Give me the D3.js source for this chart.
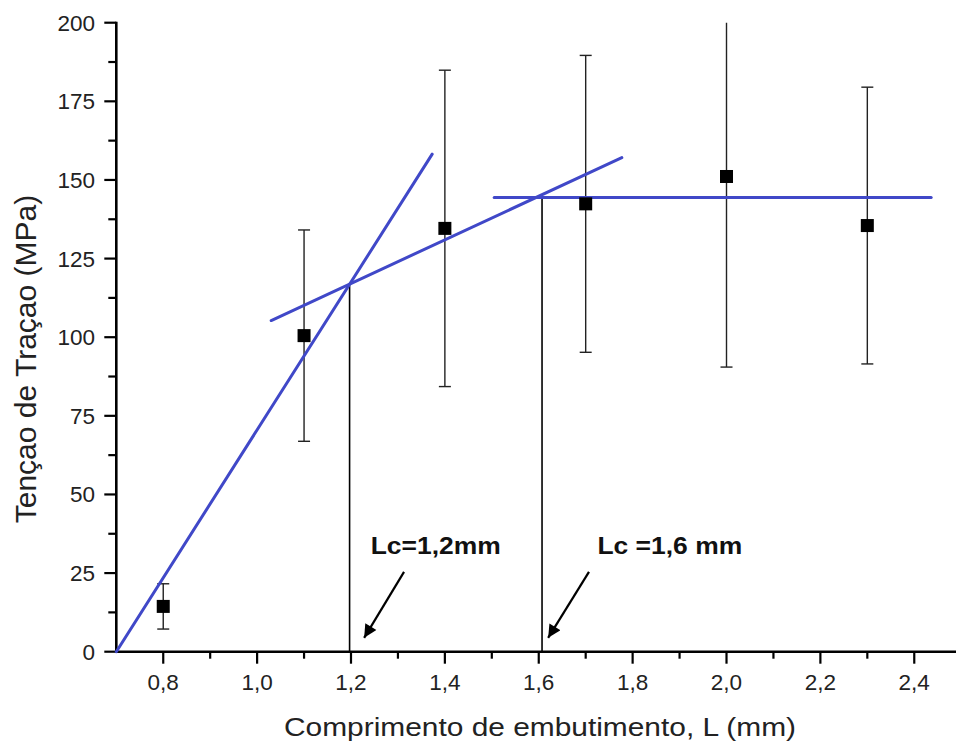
<!DOCTYPE html>
<html>
<head>
<meta charset="utf-8">
<script src="https://cdn.jsdelivr.net/npm/d3@7"></script>
<style>
  html, body { margin: 0; padding: 0; background: #fff; }
  svg { display: block; font-family: "Liberation Sans", Arial, sans-serif; }
</style>
</head>
<body>
<svg id="chart" width="956" height="744"></svg>
<script>
// Embedding length (mm) and tensile stress (MPa) with error
const lengths = [0.8, 1.1, 1.4, 1.7, 2.0, 2.3];
const stress = [14.4, 100.5, 134.6, 142.4, 151.1, 135.5];
const stressErr = [7.2, 33.6, 50.3, 47.2, 60.6, 44.0];

// Fitted lines, [x0, y0, x1, y1] in data units
const fitLines = [
  [0.7, 0, 1.373, 158.2],
  [1.03, 105.3, 1.777, 157.1],
  [1.505, 144.4, 2.436, 144.4]
];

// Critical lengths (vertical drop lines): x, top y
const criticalX = [1.197, 1.607];
const criticalTop = [116.5, 144.4];

// Annotation labels and arrows
const noteText = ['Lc=1,2mm', 'Lc =1,6 mm'];
const noteAt = [[1.242, 31.1], [1.725, 31.1]];
const arrowFrom = [[1.313, 25.4], [1.707, 25.4]];
const arrowTo = [[1.228, 4.4], [1.620, 4.4]];

const xTicks = [0.8, 1.0, 1.2, 1.4, 1.6, 1.8, 2.0, 2.2, 2.4];
const yTicks = [0, 25, 50, 75, 100, 125, 150, 175, 200];

const svg = d3.select('#chart');
const blue = '#4048c8';

const x = d3.scaleLinear().domain([0.7, 2.5]).range([116.3, 961.2]);
const y = d3.scaleLinear().domain([0, 200]).range([651.7, 22.7]);
const comma = d => d3.format('.1f')(d).replace('.', ',');

// Minor ticks
const xMinor = d3.range(0.9, 2.5, 0.2);
const yMinor = d3.range(12.5, 200, 25);

const gx = svg.append('g');
gx.selectAll('line.minor').data(xMinor).join('line')
  .attr('x1', d => x(d)).attr('x2', d => x(d))
  .attr('y1', y(0)).attr('y2', y(0) + 7)
  .attr('stroke', '#000').attr('stroke-width', 2.2);
gx.selectAll('line.major').data(xTicks).join('line')
  .attr('x1', d => x(d)).attr('x2', d => x(d))
  .attr('y1', y(0)).attr('y2', y(0) + 12)
  .attr('stroke', '#000').attr('stroke-width', 2.2);
gx.selectAll('text').data(xTicks).join('text')
  .attr('x', d => x(d)).attr('y', 690)
  .attr('text-anchor', 'middle')
  .attr('font-size', 22.5).attr('fill', '#222')
  .text(comma);
gx.append('line')
  .attr('x1', x(0.7) - 1).attr('x2', 956)
  .attr('y1', y(0)).attr('y2', y(0))
  .attr('stroke', '#000').attr('stroke-width', 2.6);

const gy = svg.append('g');
gy.selectAll('line.minor').data(yMinor).join('line')
  .attr('x1', x(0.7) - 8).attr('x2', x(0.7))
  .attr('y1', d => y(d)).attr('y2', d => y(d))
  .attr('stroke', '#000').attr('stroke-width', 2.2);
gy.selectAll('line.major').data(yTicks).join('line')
  .attr('x1', x(0.7) - 12).attr('x2', x(0.7))
  .attr('y1', d => y(d)).attr('y2', d => y(d))
  .attr('stroke', '#000').attr('stroke-width', 2.2);
gy.selectAll('text').data(yTicks).join('text')
  .attr('x', 95).attr('y', d => y(d) + 8)
  .attr('text-anchor', 'end')
  .attr('font-size', 22.5).attr('fill', '#222')
  .text(d => d);
gy.append('line')
  .attr('x1', x(0.7)).attr('x2', x(0.7))
  .attr('y1', y(200) - 1).attr('y2', y(0) + 1)
  .attr('stroke', '#000').attr('stroke-width', 2.6);

// Axis titles
svg.append('text')
  .attr('transform', 'translate(540, 736) scale(1.15, 1)')
  .attr('text-anchor', 'middle')
  .attr('font-size', 26).attr('fill', '#222')
  .text('Comprimento de embutimento, L (mm)');
svg.append('text')
  .attr('transform', 'translate(36, 359) rotate(-90)')
  .attr('text-anchor', 'middle')
  .attr('font-size', 30).attr('fill', '#222')
  .text('Tençao de Traçao (MPa)');

// Error bars
const pts = lengths.map((d, i) => ({ x: d, y: stress[i], e: stressErr[i] }));
const eb = svg.append('g').attr('stroke', '#222').attr('stroke-width', 1.4);
eb.selectAll('line.v').data(pts).join('line')
  .attr('x1', d => x(d.x)).attr('x2', d => x(d.x))
  .attr('y1', d => y(Math.min(200, d.y + d.e))).attr('y2', d => y(d.y - d.e));
eb.selectAll('line.top').data(pts.filter(d => d.y + d.e <= 200)).join('line')
  .attr('x1', d => x(d.x) - 6).attr('x2', d => x(d.x) + 6)
  .attr('y1', d => y(d.y + d.e)).attr('y2', d => y(d.y + d.e));
eb.selectAll('line.bot').data(pts).join('line')
  .attr('x1', d => x(d.x) - 6).attr('x2', d => x(d.x) + 6)
  .attr('y1', d => y(d.y - d.e)).attr('y2', d => y(d.y - d.e));

// Critical length drop lines
svg.append('g').selectAll('line').data(criticalX).join('line')
  .attr('x1', d => x(d)).attr('x2', d => x(d))
  .attr('y1', (d, i) => y(criticalTop[i])).attr('y2', y(0))
  .attr('stroke', '#000').attr('stroke-width', 1.6);

// Fit lines
svg.append('g').selectAll('line').data(fitLines).join('line')
  .attr('x1', d => x(d[0])).attr('y1', d => y(d[1]))
  .attr('x2', d => x(d[2])).attr('y2', d => y(d[3]))
  .attr('stroke', blue).attr('stroke-width', 3)
  .attr('stroke-linecap', 'round');

// Markers
svg.append('g').selectAll('rect').data(pts).join('rect')
  .attr('x', d => x(d.x) - 6.5).attr('y', d => y(d.y) - 6.5)
  .attr('width', 13).attr('height', 13)
  .attr('fill', '#000');

// Arrows
svg.append('defs').append('marker')
  .attr('id', 'head')
  .attr('viewBox', '0 0 10 10')
  .attr('refX', 10).attr('refY', 5)
  .attr('markerWidth', 20).attr('markerHeight', 13)
  .attr('markerUnits', 'userSpaceOnUse')
  .attr('orient', 'auto')
  .append('path').attr('d', 'M0,0 L10,5 L0,10 Z').attr('fill', '#000');
svg.append('g').selectAll('line').data(arrowFrom).join('line')
  .attr('x1', d => x(d[0])).attr('y1', d => y(d[1]))
  .attr('x2', (d, i) => x(arrowTo[i][0])).attr('y2', (d, i) => y(arrowTo[i][1]))
  .attr('stroke', '#000').attr('stroke-width', 2.2)
  .attr('marker-end', 'url(#head)');

svg.append('g').selectAll('text').data(noteText).join('text')
  .attr('transform', (d, i) => `translate(${x(noteAt[i][0])}, ${y(noteAt[i][1])}) scale(1.15, 1)`)
  .attr('font-size', 23).attr('font-weight', 'bold').attr('fill', '#111')
  .text(d => d);
</script>
</body>
</html>
